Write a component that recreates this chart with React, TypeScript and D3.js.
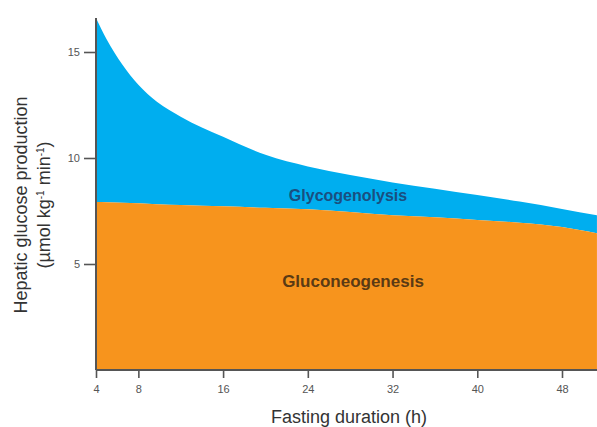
import React, { useEffect, useRef } from 'react'
import * as d3 from 'd3'

// values
const hours = [4, 5, 6.5, 8, 9.75, 12, 16, 20, 24, 28, 32, 36, 40, 44, 48, 51.3]
const totalProduction = [16.6, 15.6, 14.4, 13.45, 12.65, 11.95, 11.0, 10.15, 9.6, 9.2, 8.85, 8.55, 8.25, 7.95, 7.6, 7.3]
const gluconeogenesis = [7.92, 7.91, 7.89, 7.86, 7.82, 7.78, 7.72, 7.65, 7.58, 7.45, 7.3, 7.2, 7.08, 6.95, 6.75, 6.45]
const xTicks = [4, 8, 16, 24, 32, 40, 48]
const yTicks = [5, 10, 15]

const font = 'Liberation Sans, Arial, sans-serif'

const App = () => {
    const ref = useRef<SVGSVGElement>(null)

    useEffect(() => {
        const svg = d3.select(ref.current)
        svg.selectAll('*').remove()

        const x = d3.scaleLinear().domain([4, 48]).range([96, 562])
        const y = d3.scaleLinear().domain([0, 15]).range([370, 52])

        const rows = hours.map((h, i) => ({ h, total: totalProduction[i], gluco: gluconeogenesis[i] }))

        const orange = d3.area<any>()
            .x(d => x(d.h))
            .y0(y(0))
            .y1(d => y(d.gluco))
            .curve(d3.curveMonotoneX)

        const blue = d3.area<any>()
            .x(d => x(d.h))
            .y0(d => y(d.gluco))
            .y1(d => y(d.total))
            .curve(d3.curveMonotoneX)

        svg.append('path').attr('d', blue(rows)).attr('fill', '#00aeef')
        svg.append('path').attr('d', orange(rows)).attr('fill', '#f7941d')

        // left axis
        const left = svg.append('g')
            .attr('transform', `translate(${x(4)},0)`)
            .call(d3.axisLeft(y).tickValues(yTicks).tickSize(12).tickPadding(4).tickFormat(d3.format('d')))
        left.select('.domain').remove()
        left.append('line')
            .attr('x1', 0).attr('x2', 0)
            .attr('y1', y(16.6)).attr('y2', y(0))
            .attr('stroke', '#555').attr('stroke-width', 2)

        // bottom axis
        const bottom = svg.append('g')
            .attr('transform', `translate(0,${y(0)})`)
            .call(d3.axisBottom(x).tickValues(xTicks).tickSize(8).tickPadding(7))
        bottom.select('.domain').remove()
        bottom.append('line')
            .attr('x1', x(4)).attr('x2', 597)
            .attr('y1', 0).attr('y2', 0)
            .attr('stroke', '#555').attr('stroke-width', 2)

        svg.selectAll('.tick line').attr('stroke', '#555').attr('stroke-width', 1.6)
        svg.selectAll('.tick text')
            .attr('fill', '#555')
            .style('font-family', font)
            .style('font-size', '11px')

        svg.append('text')
            .attr('x', 349).attr('y', 423)
            .attr('text-anchor', 'middle')
            .style('font-family', font)
            .style('font-size', '18px')
            .attr('fill', '#333')
            .text('Fasting duration (h)')

        const yTitle = svg.append('g')
            .attr('transform', 'translate(0,205) rotate(-90)')
            .style('font-family', font)
            .style('font-size', '18px')
            .attr('fill', '#333')
        yTitle.append('text').attr('x', 0).attr('y', 27).attr('text-anchor', 'middle')
            .text('Hepatic glucose production')
        const unit = yTitle.append('text').attr('x', 0).attr('y', 50).attr('text-anchor', 'middle')
        unit.append('tspan').text('(µmol kg')
        unit.append('tspan').attr('dy', -6).style('font-size', '10px').text('-1')
        unit.append('tspan').attr('dy', 6).text(' min')
        unit.append('tspan').attr('dy', -6).style('font-size', '10px').text('-1')
        unit.append('tspan').attr('dy', 6).text(')')

        svg.append('text')
            .attr('x', 348).attr('y', 201)
            .attr('text-anchor', 'middle')
            .style('font-family', font)
            .style('font-size', '16px')
            .style('font-weight', 'bold')
            .attr('fill', '#1a4f80')
            .text('Glycogenolysis')

        svg.append('text')
            .attr('x', 353).attr('y', 287)
            .attr('text-anchor', 'middle')
            .style('font-family', font)
            .style('font-size', '17px')
            .style('font-weight', 'bold')
            .attr('fill', '#5a3a14')
            .text('Gluconeogenesis')
    }, [])

    return (
        <svg ref={ref} width={597} height={427} style={{ position: 'absolute', left: 0, top: 0, background: '#fff' }} />
    )
}

export default App
